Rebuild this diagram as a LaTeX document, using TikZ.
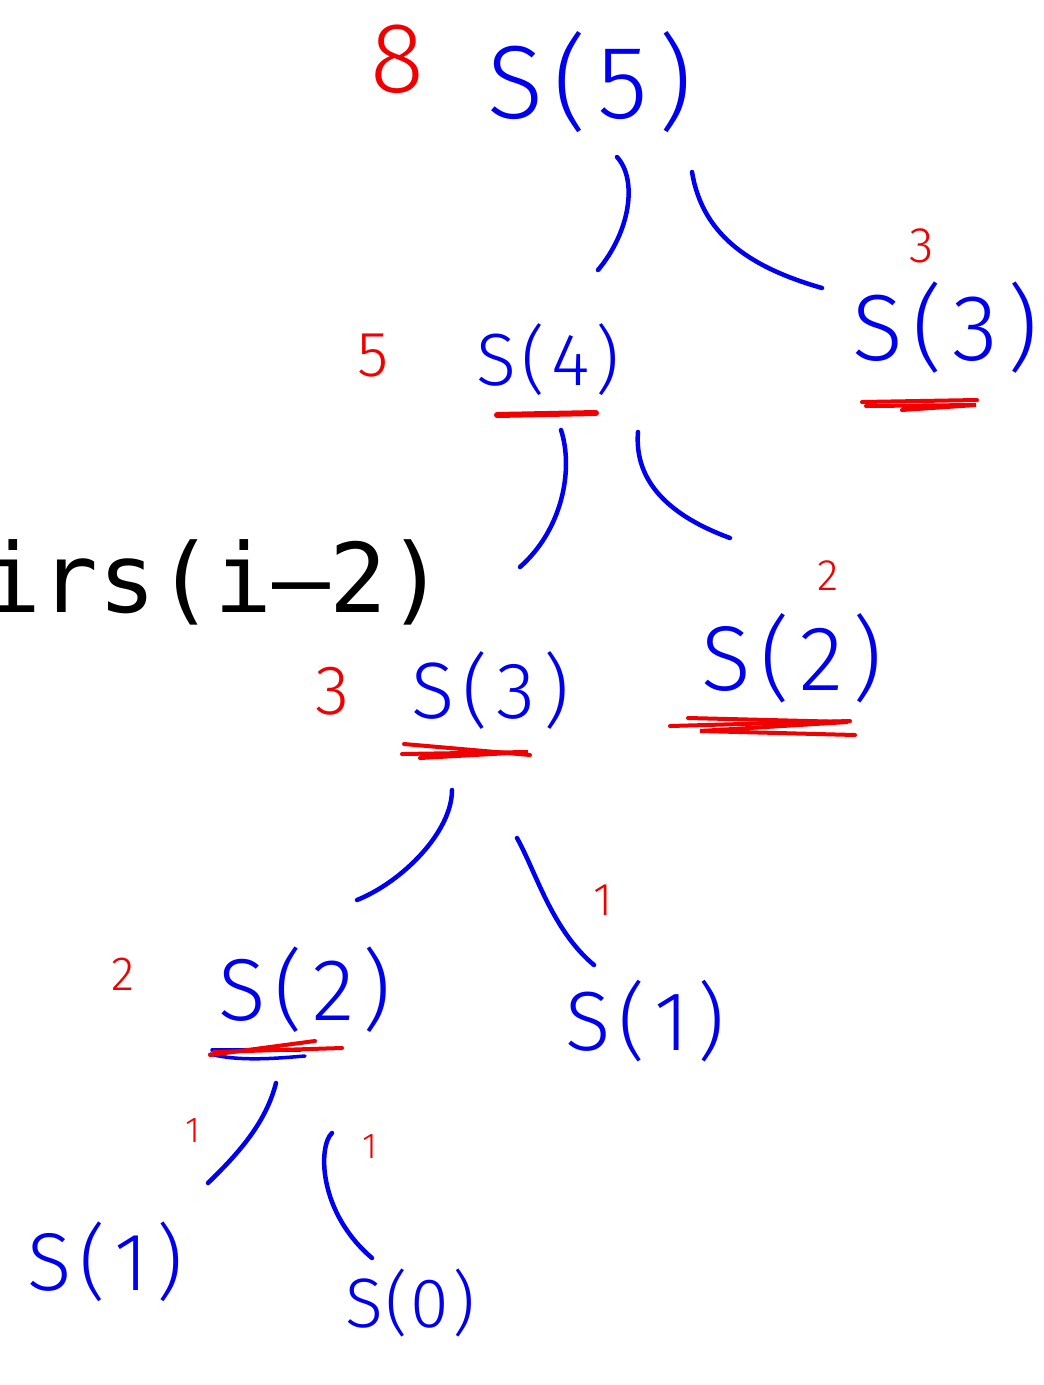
\documentclass[tikz,border=0pt]{standalone}
\usepackage{fontspec}
\setmainfont{Fira Sans Light}
\newfontfamily\monofnt{DejaVu Sans Mono}
\definecolor{penblue}{RGB}{0,0,240}
\definecolor{penred}{RGB}{240,0,0}
\tikzset{
  lbl/.style={text=penblue, inner sep=0pt, anchor=base},
  cnt/.style={text=penred, inner sep=0pt, anchor=base},
  edge/.style={draw=penblue, line width=4.5pt, line cap=round, line join=round},
  redline/.style={draw=penred, line width=4pt, line cap=round},
}
\newcommand{\fsz}[1]{\fontsize{#1}{#1}\selectfont}
\newcommand{\lab}[2][.1em]{S\kern#1(\kern#1#2\kern#1)}
\begin{document}
\begin{tikzpicture}[x=1pt,y=-1pt]
\useasboundingbox (0,0) rectangle (1044,1385);
% partial code text
\node[inner sep=0pt, anchor=base west, text=black] (code) at (-17,612) {\monofnt\fsz{96}irs(i–2)};
% tree labels
\node[lbl] (s5)  at (590,118)  {\fsz{104}\lab{5}};
\node[lbl] (s4)  at (548,385)  {\fsz{74}\lab[.08em]{4}};
\node[lbl] (s3a) at (945,360)  {\fsz{94}\lab{3}};
\node[lbl] (s2a) at (792,690)  {\fsz{92}\lab{2}};
\node[lbl] (s3b) at (490,718)  {\fsz{80}\lab{3}};
\node[lbl] (s2b) at (305,1020) {\fsz{88}\lab{2}};
\node[lbl] (s1a) at (645,1050) {\fsz{84}\lab{1}};
\node[lbl] (s1b) at (105,1290) {\fsz{82}\lab{1}};
\node[lbl] (s0)  at (410,1327) {\fsz{70}\lab[.04em]{0}};
% red counts
\node[cnt] (c8)  at (397,92)   {\fsz{100}8};
\node[cnt] (c3a) at (922,262)  {\fsz{50}3};
\node[cnt] (c5)  at (373,376)  {\fsz{64}5};
\node[cnt] (c2a) at (828,590)  {\fsz{44}2};
\node[cnt] (c3b) at (333,714)  {\fsz{70}3};
\node[cnt] (c1a) at (603,915)  {\fsz{46}1};
\node[cnt] (c2b) at (123,990)  {\fsz{48}2};
\node[cnt] (c1b) at (193,1142) {\fsz{36}1};
\node[cnt] (c1c) at (370,1158) {\fsz{36}1};
% connector end points
\coordinate (a1) at (617,157);  \coordinate (a2) at (598,270);
\coordinate (b1) at (692,172);  \coordinate (b2) at (822,288);
\coordinate (d1) at (561,430);  \coordinate (d2) at (520,567);
\coordinate (f1) at (638,432);  \coordinate (f2) at (730,538);
\coordinate (g1) at (452,790);  \coordinate (g2) at (357,900);
\coordinate (h1) at (517,838);  \coordinate (h2) at (594,965);
\coordinate (k1) at (276,1083); \coordinate (k2) at (208,1183);
\coordinate (m1) at (332,1133); \coordinate (m2) at (372,1258);
% connectors
\draw[edge] (a1) .. controls (638,180) and (630,232) .. (a2);
\draw[edge] (b1) .. controls (702,232) and (745,266) .. (b2);
\draw[edge] (d1) .. controls (574,470) and (562,530) .. (d2);
\draw[edge] (f1) .. controls (634,482) and (670,516) .. (f2);
\draw[edge] (g1) .. controls (452,832) and (402,882) .. (g2);
\draw[edge] (h1) .. controls (536,872) and (552,930) .. (h2);
\draw[edge] (k1) .. controls (266,1122) and (240,1152) .. (k2);
\draw[edge] (m1) .. controls (318,1146) and (318,1212) .. (m2);
% underlines
\draw[redline, line width=6pt] (497,415) -- (596,413);
\draw[redline] (862,402) -- (977,400);
\draw[redline] (866,406) -- (976,405) -- (902,410);
\draw[redline] (670,726) -- (850,721);
\draw[redline] (688,718) -- (848,722) -- (700,731) -- (855,735);
\draw[redline] (404,744) -- (530,755);
\draw[redline] (402,754) -- (528,752) -- (420,758);
\draw[edge, line width=3.5pt] (210,1054) .. controls (240,1062) and (280,1058) .. (305,1056);
\draw[edge, line width=3.5pt] (212,1050) -- (300,1050);
\draw[redline] (210,1055) -- (315,1041);
\draw[redline] (214,1052) -- (342,1048);
\end{tikzpicture}
\end{document}
